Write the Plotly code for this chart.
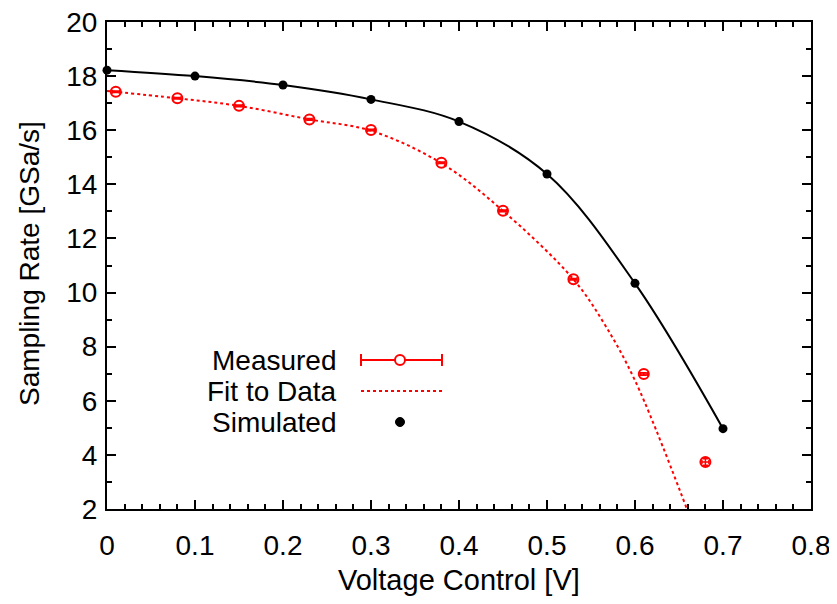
import plotly.graph_objects as go

# ---- data ----
sim_v = [0.0, 0.1, 0.2, 0.3, 0.4, 0.5, 0.6, 0.7]
sim_rate = [18.22, 18.0, 17.67, 17.14, 16.32, 14.38, 10.34, 4.97]

meas_v = [0.01, 0.08, 0.15, 0.23, 0.30, 0.38, 0.45, 0.53, 0.61, 0.68]
meas_rate = [17.42, 17.18, 16.90, 16.40, 16.01, 14.80, 13.02, 10.49, 6.99, 3.74]
meas_xerr = [0.004] * 10
meas_yerr = [0.03, 0.03, 0.03, 0.03, 0.03, 0.03, 0.03, 0.03, 0.05, 0.12]

fit_v = [0.0, 0.08, 0.15, 0.23, 0.30, 0.38, 0.45, 0.53, 0.565, 0.60, 0.659]
fit_rate = [17.45, 17.18, 16.90, 16.40, 15.98, 14.78, 13.02, 10.49, 8.85, 6.75, 2.0]

x_ticks = [0, 0.1, 0.2, 0.3, 0.4, 0.5, 0.6, 0.7, 0.8]
y_ticks = [2, 4, 6, 8, 10, 12, 14, 16, 18, 20]

legend_labels = ["Measured", "Fit to Data", "Simulated"]
x_title = "Voltage Control [V]"
y_title = "Sampling Rate [GSa/s]"

RED = "#ff0000"
FONT = "Liberation Sans, Arial, sans-serif"

# page body has an 8px margin; work in page pixels and convert
OFF = 8
W, H = 837 - OFF, 604 - OFF
PL, PR, PT, PB = 107, 811, 22, 509          # plot frame in page pixels
ML, MT = PL - OFF, PT - OFF
MR, MB = W - (PR - OFF), H - (PB - OFF)
PW, PH = PR - PL, PB - PT


def px_x(p):
    return (p - PL) / PW


def px_y(p):
    return (PB - p) / PH


fig = go.Figure()

fig.add_trace(go.Scatter(
    x=fit_v, y=fit_rate, mode="lines", line=dict(color=RED, width=2, dash="dot", shape="spline"),
    showlegend=False, hoverinfo="skip"))

fig.add_trace(go.Scatter(
    x=sim_v, y=sim_rate, mode="lines+markers",
    line=dict(color="black", width=2, shape="spline"),
    marker=dict(color="black", size=9), cliponaxis=False, showlegend=False))

fig.add_trace(go.Scatter(
    x=meas_v, y=meas_rate, mode="markers",
    marker=dict(symbol="circle-open", color=RED, size=10, line=dict(width=2, color=RED)),
    error_x=dict(type="data", array=meas_xerr, color=RED, thickness=1.5, width=2),
    error_y=dict(type="data", array=meas_yerr, color=RED, thickness=1.5, width=3),
    cliponaxis=False, showlegend=False))

# ---- custom legend (gnuplot style: text left, sample right) ----
rows_y = [px_y(360), px_y(391), px_y(422)]
text_x = px_x(339)
s_x0, s_x1, s_xm = px_x(361), px_x(442), px_x(400)

annotations = []
for lab, yy in zip(legend_labels, rows_y):
    annotations.append(dict(x=text_x, y=yy, xref="paper", yref="paper", text=lab,
                            xanchor="right", yanchor="middle", showarrow=False,
                            font=dict(family=FONT, size=28, color="black")))

annotations.append(dict(x=px_x(459), y=px_y(580), xref="paper", yref="paper", text=x_title,
                        xanchor="center", yanchor="middle", showarrow=False,
                        font=dict(family=FONT, size=29, color="black")))
annotations.append(dict(x=px_x(29), y=px_y(264), xref="paper", yref="paper", text=y_title,
                        xanchor="center", yanchor="middle", showarrow=False, textangle=-90,
                        font=dict(family=FONT, size=28, color="black")))

shapes = [
    dict(type="line", xref="paper", yref="paper", x0=s_x0, x1=s_x1, y0=rows_y[0], y1=rows_y[0],
         line=dict(color=RED, width=2)),
    dict(type="line", xref="paper", yref="paper", xsizemode="scaled", ysizemode="pixel",
         x0=s_x0, x1=s_x0, yanchor=rows_y[0], y0=-6, y1=6, line=dict(color=RED, width=2)),
    dict(type="line", xref="paper", yref="paper", xsizemode="scaled", ysizemode="pixel",
         x0=s_x1, x1=s_x1, yanchor=rows_y[0], y0=-6, y1=6, line=dict(color=RED, width=2)),
    dict(type="circle", xref="paper", yref="paper", xsizemode="pixel", ysizemode="pixel",
         xanchor=s_xm, yanchor=rows_y[0], x0=-5, x1=5, y0=-5, y1=5,
         line=dict(color=RED, width=2), fillcolor="white"),
    dict(type="line", xref="paper", yref="paper", x0=s_x0, x1=s_x1, y0=rows_y[1], y1=rows_y[1],
         line=dict(color=RED, width=2, dash="dot")),
    dict(type="circle", xref="paper", yref="paper", xsizemode="pixel", ysizemode="pixel",
         xanchor=s_xm, yanchor=rows_y[2], x0=-4.5, x1=4.5, y0=-4.5, y1=4.5,
         line=dict(color="black", width=1), fillcolor="black"),
]

axis_common = dict(
    showline=True, linecolor="black", linewidth=2, mirror="ticks",
    ticks="inside", ticklen=9, tickwidth=1.5, tickcolor="black",
    showgrid=False, zeroline=False, automargin=False,
    ticklabeloverflow="allow",
    tickfont=dict(family=FONT, size=28, color="black"),
)

fig.update_layout(
    width=W, height=H,
    margin=dict(l=ML, r=MR, t=MT, b=MB, autoexpand=False),
    paper_bgcolor="white", plot_bgcolor="white",
    font=dict(family=FONT, size=28, color="black"),
    xaxis=dict(range=[0, 0.8], tickvals=x_ticks, ticktext=[str(v) for v in x_ticks],
               minor=dict(dtick=0.02, ticks="inside", ticklen=5, tickwidth=1.5, tickcolor="black"),
               ticklabelstandoff=10,
               **axis_common),
    yaxis=dict(range=[2, 20], tickvals=y_ticks, ticktext=[str(v) for v in y_ticks],
               minor=dict(dtick=1, ticks="inside", ticklen=5, tickwidth=1.5, tickcolor="black"),
               ticklabelstandoff=2,
               **axis_common),
    annotations=annotations,
    shapes=shapes,
    showlegend=False,
)

fig.write_html("out.html")
